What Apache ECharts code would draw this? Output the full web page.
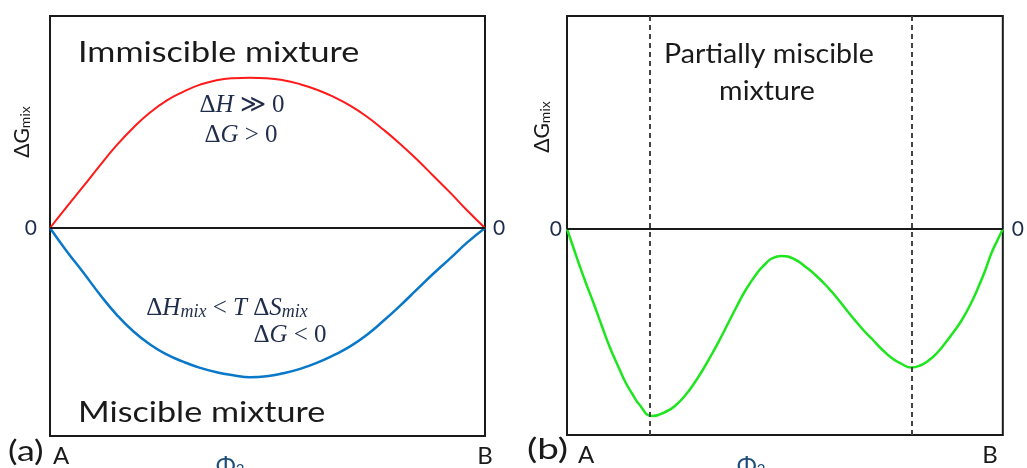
<!DOCTYPE html>
<html>
<head>
<meta charset="utf-8">
<script src="https://cdn.jsdelivr.net/npm/echarts@6/dist/echarts.min.js"></script>
<style>html,body{margin:0;padding:0;background:#fff;}#c{width:1027px;height:468px;}</style>
</head>
<body>
<div id="c"></div>
<script>
// ---- data (x: composition from A=0 to B=1, y: ΔGmix in arbitrary units) ----
const xTickValues = [0, 1];
const xTickLabels = ['A', 'B'];
const yTickValues = [0];
const immiscibleX = [0, 0.038, 0.077, 0.115, 0.153, 0.192, 0.230, 0.268, 0.307, 0.345, 0.383, 0.421, 0.460, 0.498, 0.536, 0.575, 0.613, 0.651, 0.690, 0.728, 0.766, 0.805, 0.843, 0.881, 0.920, 0.958, 1];
const immiscibleY = [0, 21, 42, 63, 83, 101, 116, 128, 137, 144, 148.5, 150.5, 151, 150.5, 148.5, 144.5, 139, 132, 123, 112, 99, 84.5, 69, 52.5, 35.5, 18, 0];
const miscibleX = [0, 0.038, 0.077, 0.115, 0.153, 0.192, 0.230, 0.268, 0.307, 0.345, 0.383, 0.421, 0.460, 0.498, 0.536, 0.575, 0.613, 0.651, 0.690, 0.728, 0.766, 0.805, 0.843, 0.881, 0.920, 0.958, 1];
const miscibleY = [0, -23, -45, -67, -87, -104, -117, -127, -134.5, -140.5, -145, -148, -150, -149, -146, -141.5, -135.5, -128, -119, -107.5, -93.5, -78, -62, -46, -30.5, -15, 0];
const partialX = [0, 0.015, 0.03, 0.045, 0.06, 0.08, 0.098, 0.117, 0.135, 0.15, 0.165, 0.195, 0.23, 0.25, 0.27, 0.29, 0.31, 0.33, 0.35, 0.37, 0.39, 0.41, 0.438, 0.455, 0.468, 0.492, 0.521, 0.551, 0.57, 0.589, 0.608, 0.627, 0.645, 0.664, 0.683, 0.702, 0.723, 0.745, 0.768, 0.79, 0.81, 0.831, 0.85, 0.868, 0.887, 0.906, 0.925, 0.944, 0.96, 0.974, 0.988, 1];
const partialY = [0, -19, -38, -56, -73, -97, -118, -137, -154, -165, -175, -187, -182, -176, -167, -155.5, -142, -127, -111, -94, -77, -61, -43, -35, -30, -27, -30, -39, -46, -54, -63, -73, -83, -93, -102.5, -111, -120.5, -129, -135, -138.5, -136.5, -131, -123.5, -114, -103, -91, -76, -58, -41, -24, -11, 0];
const phaseBoundaries = [0.19, 0.791];

const pairs = (xs, ys) => xs.map((x, i) => [x, ys[i]]);

const SANS = 'Lato';
const NAVY = '#1f2d4a';
const INK = '#1a1a1a';

function xAxisFor(gi, padA, padB, alignMax) {
  return {
    type: 'value', gridIndex: gi, min: 0, max: 1,
    axisLine: {show: false}, axisTick: {show: false}, splitLine: {show: false},
    axisLabel: {
      customValues: xTickValues, margin: 8,
      alignMinLabel: 'left', alignMaxLabel: alignMax,
      formatter: v => v === 0 ? '{a|' + xTickLabels[0] + '}' : '{b|' + xTickLabels[1] + '}',
      rich: {
        a: {fontFamily: SANS, fontSize: 24, color: INK, padding: [0, 0, 0, padA]},
        b: {fontFamily: SANS, fontSize: 24, color: INK, padding: [0, padB, 0, 0]}
      }
    }
  };
}
function yAxisFor(gi, pos, min, max, margin) {
  return {
    type: 'value', gridIndex: gi, position: pos, min: min, max: max,
    axisLine: {show: false}, axisTick: {show: false}, splitLine: {show: false},
    axisLabel: {customValues: yTickValues, margin: margin, color: NAVY, fontFamily: SANS, fontSize: 21}
  };
}

const zeroLine = {
  silent: true, symbol: 'none', label: {show: false},
  lineStyle: {type: 'solid', color: INK, width: 2},
  data: [{yAxis: 0}]
};

const subRich = (size, sub, color) => ({
  a: {font: size + 'px Lato', fill: color},
  b: {font: sub + 'px Lato', fill: color, padding: [Math.round(size * 0.35), 0, 0, 0]}
});
const mathRich = {
  r: {font: '25px "Liberation Serif"', fill: NAVY},
  i: {font: 'italic 25px "Liberation Serif"', fill: NAVY},
  s: {font: 'italic 18px "Liberation Serif"', fill: NAVY, padding: [9, 0, 0, 0]}
};
const txt = (text, x, y, size, sx, align) => ({
  type: 'text', x: x, y: y, scaleX: sx,
  style: {text: text, font: size + 'px Lato', fill: INK, align: align, verticalAlign: 'middle'}
});
const curve = {smooth: 0.5, showSymbol: false, z: 3};

const option = {
  backgroundColor: '#fff',
  animation: false,
  grid: [
    {left: 50, top: 16, width: 435, height: 422, show: true, borderColor: INK, borderWidth: 2, backgroundColor: 'transparent'},
    {left: 567, top: 16, width: 441, height: 419, show: true, borderColor: INK, borderWidth: 2, backgroundColor: 'transparent'}
  ],
  xAxis: [xAxisFor(0, 3, 0, 'center'), xAxisFor(1, 11, 5, 'right')],
  yAxis: [
    yAxisFor(0, 'left', -209, 213, 13),
    yAxisFor(0, 'right', -209, 213, 8),
    yAxisFor(1, 'left', -206, 213, 5),
    yAxisFor(1, 'right', -206, 213, 9)
  ],
  series: [
    Object.assign({type: 'line', xAxisIndex: 0, yAxisIndex: 0, data: pairs(immiscibleX, immiscibleY),
     lineStyle: {color: '#ff1a1a', width: 2}, markLine: zeroLine}, curve),
    Object.assign({type: 'line', xAxisIndex: 0, yAxisIndex: 0, data: pairs(miscibleX, miscibleY),
     lineStyle: {color: '#0a78c8', width: 2.5}}, curve),
    Object.assign({type: 'line', xAxisIndex: 1, yAxisIndex: 2, data: pairs(partialX, partialY),
     lineStyle: {color: '#1ee61e', width: 2.5},
     markLine: {
       silent: true, symbol: 'none', label: {show: false},
       data: [{yAxis: 0, lineStyle: {type: 'solid', color: INK, width: 2}}]
         .concat(phaseBoundaries.map(v => ({xAxis: v, lineStyle: {type: [5, 4], color: '#444', width: 2}})))
     }}, curve)
  ],
  graphic: [
    txt('Immiscible mixture', 78, 53, 28, 1.22, 'left'),
    txt('Miscible mixture', 78, 413, 28, 1.22, 'left'),
    txt('Partially miscible', 769, 55, 26, 1.1, 'center'),
    txt('mixture', 767, 92, 26, 1.1, 'center'),
    txt('(a)', 8, 452, 28, 1.28, 'left'),
    txt('(b)', 527, 450, 28, 1.38, 'left'),
    {type: 'text', x: 22, y: 132, rotation: Math.PI / 2,
     style: {text: '{a|ΔG}{b|mix}', align: 'center', verticalAlign: 'middle', rich: subRich(21, 14, INK)}},
    {type: 'text', x: 542, y: 127, rotation: Math.PI / 2,
     style: {text: '{a|ΔG}{b|mix}', align: 'center', verticalAlign: 'middle', rich: subRich(21, 14, INK)}},
    {type: 'text', x: 230, y: 466,
     style: {text: '{a|Φ}{b|2}', align: 'center', verticalAlign: 'middle', rich: subRich(24, 15, '#1f4e79')}},
    {type: 'text', x: 751, y: 466,
     style: {text: '{a|Φ}{b|2}', align: 'center', verticalAlign: 'middle', rich: subRich(24, 15, '#1f4e79')}},
    {type: 'text', x: 242, y: 105,
     style: {text: '{r|Δ}{i|H}{r| ≫ 0}', align: 'center', verticalAlign: 'middle', rich: mathRich}},
    {type: 'text', x: 241, y: 135,
     style: {text: '{r|Δ}{i|G}{r| > 0}', align: 'center', verticalAlign: 'middle', rich: mathRich}},
    {type: 'text', x: 227, y: 308,
     style: {text: '{r|Δ}{i|H}{s|mix}{r| < }{i|T}{r| Δ}{i|S}{s|mix}', align: 'center', verticalAlign: 'middle', rich: mathRich}},
    {type: 'text', x: 290, y: 335,
     style: {text: '{r|Δ}{i|G}{r| < 0}', align: 'center', verticalAlign: 'middle', rich: mathRich}}
  ]
};

const chart = echarts.init(document.getElementById('c'), null, {renderer: 'canvas'});
chart.setOption(option);
</script>
</body>
</html>
